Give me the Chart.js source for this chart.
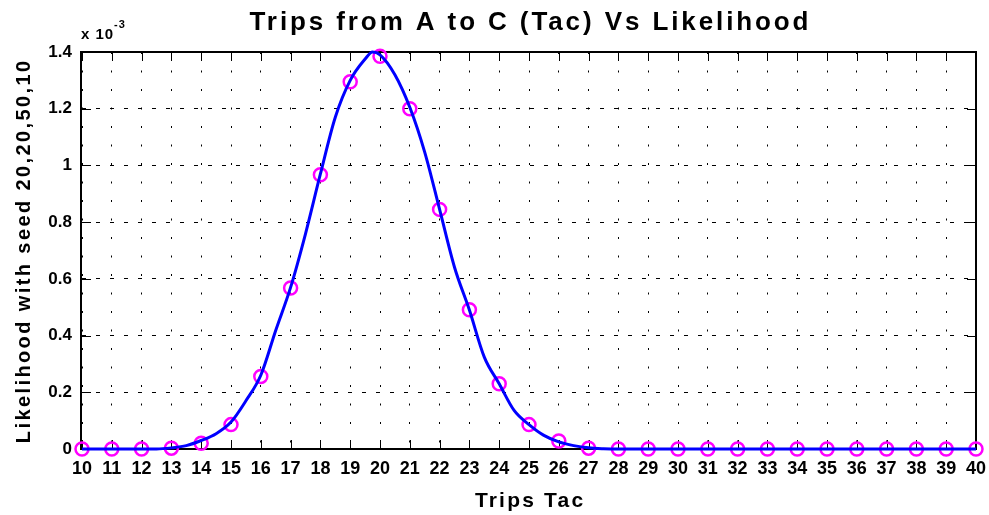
<!DOCTYPE html>
<html>
<head>
<meta charset="utf-8">
<script src="https://cdn.jsdelivr.net/npm/chart.js@4/dist/chart.umd.min.js"></script>
<style>
  html, body { margin: 0; padding: 0; background: #fff; }
  #wrap { width: 989px; height: 515px; }
</style>
</head>
<body>
<div id="wrap"><canvas id="likelihoodChart" width="989" height="515"></canvas></div>
<script>
// Trips Tac vs likelihood (values in units of 1e-3)

var trips = [10, 11, 12, 13, 14, 15, 16, 17, 18, 19, 20, 21, 22, 23, 24, 25,
             26, 27, 28, 29, 30, 31, 32, 33, 34, 35, 36, 37, 38, 39, 40];
var likelihood = [0, 0, 0, 0.003, 0.02, 0.086, 0.256, 0.568, 0.967, 1.295, 1.385, 1.2, 0.845, 0.491, 0.23, 0.086,
                  0.028, 0.003, 0, 0, 0, 0, 0, 0, 0, 0, 0, 0, 0, 0, 0];

// smooth curve
var curveX = [10, 12.5, 13, 13.5, 14, 14.5, 15, 15.5, 16, 16.5, 17, 17.5, 18, 18.5, 19, 19.5, 19.75,
              20, 20.5, 21, 21.5, 22, 22.5, 23, 23.5, 24, 24.5, 25, 25.5, 26, 26.5, 27, 27.5, 28, 40];
var curveY = [0, 0, 0.004, 0.012, 0.03, 0.054, 0.095, 0.17, 0.26, 0.418, 0.57, 0.759, 0.97, 1.17, 1.3, 1.375, 1.4,
              1.39, 1.32, 1.205, 1.047, 0.845, 0.641, 0.49, 0.324, 0.23, 0.136, 0.086, 0.048, 0.025, 0.012, 0.004, 0.001, 0, 0];

var yTicks = [0, 0.2, 0.4, 0.6, 0.8, 1, 1.2, 1.4];

var titleText = 'Trips from A to C (Tac) Vs Likelihood';
var xTitle = 'Trips Tac';
var yTitle = 'Likelihood with seed 20,20,50,10';

var FONT = '"Liberation Sans", Arial, sans-serif';

// box, inward tick marks (matlab style)
var frame = {
    id: 'frame',
    beforeDatasetsDraw: function (chart) {
        var ctx = chart.ctx, a = chart.chartArea;
        var xs = chart.scales.x, ys = chart.scales.y;
        ctx.save();
        ctx.strokeStyle = '#000';
        ctx.lineWidth = 2;
        ctx.setLineDash([]);
        ctx.strokeRect(a.left - 1, a.top, a.right - a.left + 1, a.bottom - a.top);
        ctx.lineWidth = 1;
        ctx.beginPath();
        trips.forEach(function (t) {
            var px = Math.round(xs.getPixelForValue(t)) + 0.5;
            ctx.moveTo(px, a.top); ctx.lineTo(px, a.top + 9);
            ctx.moveTo(px, a.bottom); ctx.lineTo(px, a.bottom - 9);
        });
        yTicks.forEach(function (v) {
            var py = Math.round(ys.getPixelForValue(v)) + 0.5;
            ctx.moveTo(a.left, py); ctx.lineTo(a.left + 9, py);
            ctx.moveTo(a.right, py); ctx.lineTo(a.right - 9, py);
        });
        ctx.stroke();
        ctx.restore();
    }
};

function spacedText(ctx, text, x, y, font, spacing) {
    ctx.font = font;
    ctx.letterSpacing = spacing + 'px';
    var w = ctx.measureText(text).width - spacing;
    ctx.textAlign = 'left';
    ctx.fillText(text, x - w / 2, y);
}

var labels = {
    id: 'labels',
    afterDraw: function (chart) {
        var ctx = chart.ctx, a = chart.chartArea;
        var cx = (a.left + a.right) / 2;
        ctx.save();
        ctx.fillStyle = '#000';
        ctx.textBaseline = 'alphabetic';
        spacedText(ctx, titleText, cx, 30, 'bold 26px ' + FONT, 2.9);
        spacedText(ctx, xTitle, cx, 507, 'bold 21px ' + FONT, 2.2);
        // exponent
        ctx.letterSpacing = '1px';
        ctx.textAlign = 'left';
        ctx.font = 'bold 15px ' + FONT;
        ctx.fillText('x 10', 81, 39);
        ctx.font = 'bold 11px ' + FONT;
        ctx.fillText('-3', 114, 28);
        // y title
        ctx.translate(30, 252);
        ctx.rotate(-Math.PI / 2);
        spacedText(ctx, yTitle, 0, 0, 'bold 20px ' + FONT, 2.4);
        ctx.restore();
    }
};

var ctx = document.getElementById('likelihoodChart').getContext('2d');
var likelihoodChart = new Chart(ctx, {
    type: 'scatter',
    data: {
        datasets: [{
            label: 'curve',
            data: curveX.map(function (x, i) { return { x: x, y: curveY[i] }; }),
            showLine: true,
            borderColor: '#0000ff',
            borderWidth: 3,
            pointRadius: 0,
            cubicInterpolationMode: 'monotone',
            clip: false
        }, {
            label: 'points',
            data: trips.map(function (t, i) { return { x: t, y: likelihood[i] }; }),
            showLine: false,
            pointRadius: 6.5,
            pointBorderWidth: 2.5,
            pointBorderColor: '#ff00ff',
            pointBackgroundColor: 'rgba(0,0,0,0)',
            clip: false
        }]
    },
    options: {
        responsive: false,
        animation: false,
        layout: { padding: { top: 52, right: 13, left: 0, bottom: 0 } },
        plugins: {
            legend: { display: false },
            tooltip: { enabled: false }
        },
        scales: {
            x: {
                type: 'linear',
                min: 10,
                max: 40,
                afterFit: function (s) { s.height = 66; s.paddingLeft = 0; s.paddingRight = 0; },
                grid: { color: '#000', lineWidth: 1, drawTicks: false },
                border: { display: false, dash: [2, 16.5] },
                ticks: {
                    stepSize: 1,
                    autoSkip: false,
                    maxRotation: 0,
                    padding: 9,
                    color: '#000',
                    font: { family: FONT, size: 18, weight: 'bold' }
                }
            },
            y: {
                min: 0,
                max: 1.4,
                afterFit: function (s) { s.width = 82; s.paddingTop = 0; s.paddingBottom = 0; },
                grid: { color: '#000', lineWidth: 1, drawTicks: false },
                border: { display: false, dash: [4, 10] },
                ticks: {
                    stepSize: 0.2,
                    padding: 10,
                    color: '#000',
                    font: { family: FONT, size: 17, weight: 'bold' },
                    callback: function (v) { return String(+v.toFixed(1)); }
                }
            }
        }
    },
    plugins: [frame, labels]
});
</script>
</body>
</html>
